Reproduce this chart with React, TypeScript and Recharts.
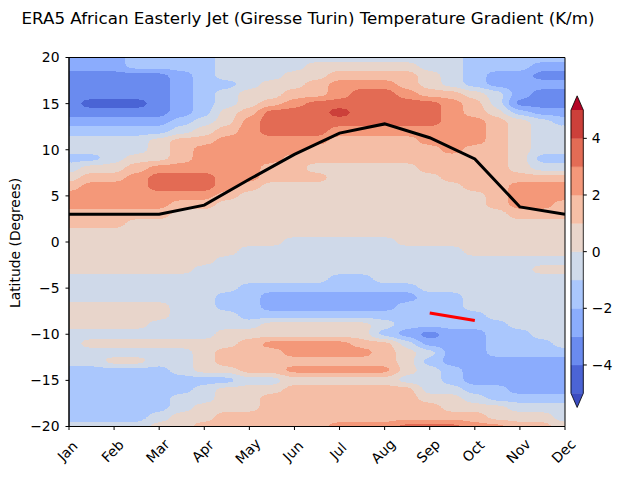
import React from "react";
import { ComposedChart, XAxis, YAxis, Line, Scatter, ReferenceArea } from "recharts";

const MONTHS = ["Jan", "Feb", "Mar", "Apr", "May", "Jun", "Jul", "Aug", "Sep", "Oct", "Nov", "Dec"];
const MONTH_TICKS = [0, 1, 2, 3, 4, 5, 6, 7, 8, 9, 10, 11];
const LAT_TICKS = [-20, -15, -10, -5, 0, 5, 10, 15, 20];

// contour levels and coolwarm band colours
const LEVELS = [-5, -4, -3, -2, -1, 0, 1, 2, 3, 4, 5];
const CBAR_TICKS = [-4, -2, 0, 2, 4];
const BAND_COLORS = [
  "#4b64d5", "#6a8bef", "#8badfd", "#aac7fd", "#cfdaea",
  "#e9d5cb", "#f6bfa6", "#f4987a", "#e36c55", "#cc403a",
];
const UNDER_COLOR = "#3b4cc0";
const OVER_COLOR = "#b40426";

// sample grid: every half month, every degree of latitude
const GRID_MONTHS = [0, 0.5, 1, 1.5, 2, 2.5, 3, 3.5, 4, 4.5, 5, 5.5, 6, 6.5, 7, 7.5, 8, 8.5, 9, 9.5, 10, 10.5, 11];
const GRID_LATS = [
  20, 19, 18, 17, 16, 15, 14, 13, 12, 11, 10, 9, 8, 7, 6, 5, 4, 3, 2, 1, 0,
  -1, -2, -3, -4, -5, -6, -7, -8, -9, -10, -11, -12, -13, -14, -15, -16, -17, -18, -19, -20,
];

// band index per grid cell, run-length coded per latitude row: [band, count, band, count, ...]
const FIELD_RUNS: number[][] = [
  [2, 3, 3, 4, 4, 11, 3, 5],
  [2, 3, 3, 4, 4, 4, 5, 5, 4, 2, 3, 3, 2, 2],
  [1, 5, 2, 1, 3, 1, 4, 3, 5, 2, 6, 4, 5, 1, 4, 1, 3, 1, 2, 2, 1, 2],
  [1, 5, 2, 1, 3, 2, 4, 1, 5, 2, 6, 1, 7, 3, 6, 1, 5, 1, 4, 1, 3, 1, 2, 4],
  [1, 5, 2, 1, 3, 1, 4, 1, 5, 2, 6, 2, 7, 1, 8, 2, 7, 1, 6, 2, 5, 1, 4, 1, 2, 1, 1, 2],
  [1, 1, 0, 3, 1, 1, 2, 1, 3, 1, 4, 1, 5, 1, 6, 1, 7, 1, 8, 6, 7, 1, 6, 1, 4, 1, 1, 3],
  [1, 5, 2, 1, 3, 1, 5, 1, 6, 1, 8, 3, 9, 1, 8, 4, 7, 1, 6, 1, 5, 1, 3, 1, 2, 2],
  [2, 5, 3, 1, 4, 1, 5, 1, 7, 1, 8, 8, 7, 2, 6, 1, 5, 1, 4, 1, 3, 1],
  [3, 5, 4, 1, 5, 1, 6, 1, 7, 1, 8, 3, 7, 7, 6, 1, 5, 1, 4, 2],
  [4, 4, 5, 1, 6, 2, 7, 5, 6, 4, 7, 3, 6, 1, 5, 1, 4, 2],
  [4, 4, 5, 1, 6, 1, 7, 5, 6, 6, 7, 1, 6, 2, 5, 1, 4, 2],
  [3, 2, 4, 1, 5, 2, 6, 1, 7, 4, 6, 10, 5, 1, 3, 2],
  [4, 1, 5, 2, 6, 1, 7, 5, 6, 2, 5, 5, 6, 4, 5, 1, 4, 2],
  [5, 1, 6, 2, 7, 1, 8, 3, 7, 2, 6, 3, 5, 5, 6, 6],
  [6, 1, 7, 3, 8, 3, 7, 1, 6, 1, 5, 9, 6, 2, 7, 3],
  [7, 7, 6, 1, 5, 11, 6, 1, 7, 3],
  [7, 5, 6, 2, 5, 12, 6, 1, 7, 2, 6, 1],
  [6, 5, 5, 15, 6, 3],
  [6, 3, 5, 20],
  [5, 23],
  [5, 10, 4, 5, 5, 8],
  [5, 8, 4, 10, 5, 5],
  [5, 7, 4, 16],
  [5, 6, 4, 15, 5, 2],
  [4, 12, 3, 2, 4, 9],
  [4, 8, 3, 8, 4, 7],
  [4, 7, 3, 2, 2, 7, 3, 2, 4, 5],
  [5, 5, 4, 2, 3, 2, 2, 6, 3, 3, 4, 5],
  [5, 5, 4, 3, 3, 11, 4, 4],
  [5, 4, 4, 5, 5, 5, 4, 1, 3, 5, 4, 3],
  [4, 7, 5, 7, 3, 1, 2, 1, 1, 1, 2, 2, 3, 2, 4, 2],
  [4, 1, 5, 7, 6, 1, 7, 4, 6, 2, 4, 1, 2, 3, 3, 3, 4, 1],
  [4, 6, 5, 1, 6, 3, 7, 4, 6, 1, 5, 1, 4, 1, 2, 2, 3, 4],
  [4, 2, 5, 2, 4, 2, 5, 1, 6, 8, 5, 1, 3, 1, 2, 6],
  [3, 5, 4, 1, 5, 2, 6, 2, 7, 5, 5, 1, 4, 1, 3, 1, 2, 5],
  [3, 8, 4, 2, 5, 5, 4, 2, 3, 1, 2, 5],
  [3, 6, 4, 1, 5, 3, 6, 6, 4, 2, 3, 2, 2, 3],
  [3, 5, 4, 2, 5, 2, 6, 7, 5, 2, 4, 1, 3, 4],
  [3, 5, 4, 1, 5, 3, 6, 8, 5, 3, 4, 3],
  [3, 4, 4, 1, 5, 2, 6, 12, 5, 3, 4, 1],
  [4, 4, 5, 2, 6, 6, 7, 3, 8, 3, 7, 2, 6, 2, 5, 1],
];

// AEJ core latitude (black) and the short red segment
const JET_LAT = [3, 3, 3, 4, 6.8, 9.5, 11.8, 12.8, 11.3, 9, 3.8, 3];
const RED_MONTHS = [8, 9];
const RED_LAT = [-7.7, -8.5];

const JET = MONTH_TICKS.map((m, i) => ({ x: m, y: JET_LAT[i] }));
const RED = RED_MONTHS.map((m, i) => ({ x: m, y: RED_LAT[i] }));

// one scatter point per horizontal run of equal band
type Run = { x: number; y: number; w: number; band: number };
const HALF_STEP = 0.25;
const RUNS: Run[] = [];
FIELD_RUNS.forEach((row, r) => {
  let col = 0;
  for (let k = 0; k < row.length; k += 2) {
    const band = row[k];
    const n = row[k + 1];
    const end = Math.min(col + n - 1, GRID_MONTHS.length - 1);
    const x1 = GRID_MONTHS[col] - HALF_STEP;
    const x2 = GRID_MONTHS[end] + HALF_STEP;
    RUNS.push({ x: (x1 + x2) / 2, y: GRID_LATS[r], w: x2 - x1, band });
    col += n;
  }
});

const W = 623;
const H = 477;
const MARGIN = { top: 57.5, right: 58, bottom: 10.5, left: 29 };
const Y_AXIS_W = 40;
const X_AXIS_H = 40;
const PLOT_W = W - MARGIN.left - MARGIN.right - Y_AXIS_W;
const PLOT_H = H - MARGIN.top - MARGIN.bottom - X_AXIS_H;
const PX_PER_MONTH = PLOT_W / 11;
const PX_PER_DEG = PLOT_H / 40;

const FONT = "DejaVu Sans, sans-serif";
const fmtMinus = (v: number) => String(v).replace("-", "\u2212");

// cells are painted as a grey code of their band; the filter blurs and re-bins into the palette
const bandGrey = (b: number) => {
  const v = Math.round(((b + 0.5) / BAND_COLORS.length) * 255);
  return `rgb(${v},${v},${v})`;
};
const channel = (idx: number) =>
  BAND_COLORS.map((c) => (parseInt(c.slice(1 + idx * 2, 3 + idx * 2), 16) / 255).toFixed(4)).join(" ");

function FieldCell(props: any) {
  const { cx, cy, payload } = props;
  const w = payload.w * PX_PER_MONTH;
  const h = PX_PER_DEG;
  return (
    <rect
      x={cx - w / 2 - 0.3}
      y={cy - h / 2 - 0.3}
      width={w + 0.6}
      height={h + 0.6}
      fill={bandGrey(payload.band)}
      shapeRendering="crispEdges"
    />
  );
}

function MonthTick(props: any) {
  const { x, y, payload } = props;
  const cx = x - 1.5;
  const cy = y + 19;
  return (
    <text
      x={cx}
      y={cy}
      textAnchor="middle"
      dominantBaseline="central"
      fontSize={13.9}
      fontFamily={FONT}
      fill="#000"
      transform={`rotate(-45 ${cx} ${cy})`}
    >
      {MONTHS[payload.value]}
    </text>
  );
}

function SidesOnly(props: any) {
  const { x, y, width, height } = props;
  return (
    <path
      d={`M${x},${y} V${y + height} M${x + width},${y} V${y + height}`}
      stroke="#000"
      strokeWidth={0.8}
      fill="none"
    />
  );
}

function TopTriangle(props: any) {
  const { x, y, width, height } = props;
  return (
    <g>
      <polygon points={`${x},${y + height} ${x + width},${y + height} ${x + width / 2},${y}`} fill={OVER_COLOR} />
      <polyline
        points={`${x},${y + height} ${x + width / 2},${y} ${x + width},${y + height}`}
        stroke="#000"
        strokeWidth={0.8}
        fill="none"
      />
    </g>
  );
}

function BottomTriangle(props: any) {
  const { x, y, width, height } = props;
  return (
    <g>
      <polygon points={`${x},${y} ${x + width},${y} ${x + width / 2},${y + height}`} fill={UNDER_COLOR} />
      <polyline
        points={`${x},${y} ${x + width / 2},${y + height} ${x + width},${y}`}
        stroke="#000"
        strokeWidth={0.8}
        fill="none"
      />
    </g>
  );
}

function Colorbar() {
  return (
    <ComposedChart
      width={W}
      height={H}
      data={[{ x: 0 }, { x: 1 }]}
      margin={{ top: 110, right: 4.7, bottom: 83.7, left: 571 }}
      style={{ fontFamily: FONT }}
    >
      <XAxis type="number" dataKey="x" domain={[0, 1]} hide allowDataOverflow />
      <YAxis
        yAxisId="cb"
        orientation="right"
        type="number"
        domain={[-5, 5]}
        ticks={CBAR_TICKS}
        allowDataOverflow
        width={35}
        axisLine={false}
        tickSize={3.5}
        tickMargin={5}
        tickLine={{ stroke: "#000" }}
        tick={{ fill: "#000", fontSize: 13.9, fontFamily: FONT }}
        tickFormatter={fmtMinus}
      />
      {BAND_COLORS.map((c, i) => (
        <ReferenceArea
          key={`cb${i}`}
          yAxisId="cb"
          x1={0}
          x2={1}
          y1={LEVELS[i]}
          y2={LEVELS[i + 1]}
          fill={c}
          fillOpacity={1}
          stroke={c}
          strokeWidth={0.5}
          ifOverflow="visible"
        />
      ))}
      <ReferenceArea yAxisId="cb" x1={0} x2={1} y1={5} y2={5.5} ifOverflow="visible" shape={TopTriangle} />
      <ReferenceArea yAxisId="cb" x1={0} x2={1} y1={-5.5} y2={-5} ifOverflow="visible" shape={BottomTriangle} />
      <ReferenceArea yAxisId="cb" x1={0} x2={1} y1={-5} y2={5} ifOverflow="visible" shape={SidesOnly} />
    </ComposedChart>
  );
}

export default function App() {
  return (
    <div style={{ position: "absolute", left: 0, top: 0, width: W, height: H, background: "#fff" }}>
      <style>{`.recharts-scatter { filter: url(#contourBins); }`}</style>
      <svg width={0} height={0} style={{ position: "absolute" }}>
        <defs>
          <filter id="contourBins" x="-5%" y="-5%" width="110%" height="110%" colorInterpolationFilters="sRGB">
            <feGaussianBlur stdDeviation="7 3" />
            <feComponentTransfer>
              <feFuncR type="discrete" tableValues={channel(0)} />
              <feFuncG type="discrete" tableValues={channel(1)} />
              <feFuncB type="discrete" tableValues={channel(2)} />
              <feFuncA type="linear" slope={3} intercept={0} />
            </feComponentTransfer>
          </filter>
        </defs>
      </svg>
      <div style={{ position: "absolute", left: 0, top: 0 }}>
        <ComposedChart width={W} height={H} margin={MARGIN} style={{ fontFamily: FONT }}>
          <XAxis
            type="number"
            dataKey="x"
            domain={[0, 11]}
            ticks={MONTH_TICKS}
            interval={0}
            allowDataOverflow
            height={X_AXIS_H}
            tickSize={3.5}
            tickMargin={2}
            axisLine={{ stroke: "#000" }}
            tickLine={{ stroke: "#000" }}
            tick={<MonthTick />}
          />
          <YAxis
            type="number"
            dataKey="y"
            domain={[-20, 20]}
            ticks={LAT_TICKS}
            interval={0}
            allowDataOverflow
            width={Y_AXIS_W}
            tickSize={3.5}
            tickMargin={6}
            axisLine={{ stroke: "#000" }}
            tickLine={{ stroke: "#000" }}
            tick={{ fill: "#000", fontSize: 13.9, fontFamily: FONT }}
            tickFormatter={fmtMinus}
          />
          <Scatter data={RUNS} dataKey="y" shape={FieldCell} isAnimationActive={false} zIndex={50} />
          <ReferenceArea
            x1={0}
            x2={11}
            y1={-20}
            y2={20}
            fill="none"
            fillOpacity={0}
            stroke="#000"
            strokeWidth={1}
            ifOverflow="visible"
            zIndex={450}
          />
          <Line data={JET} dataKey="y" type="linear" stroke="#000" strokeWidth={3} dot={false} isAnimationActive={false} zIndex={700} />
          <Line data={RED} dataKey="y" type="linear" stroke="#ff0000" strokeWidth={3} dot={false} isAnimationActive={false} zIndex={700} />
        </ComposedChart>
      </div>
      <div style={{ position: "absolute", left: 0, top: 0 }}>
        <Colorbar />
      </div>
      <svg width={W} height={H} style={{ position: "absolute", left: 0, top: 0, pointerEvents: "none" }}>
        <text x={308} y={24} textAnchor="middle" fontSize={16.7} fontFamily={FONT} fill="#000">
          ERA5 African Easterly Jet (Giresse Turin) Temperature Gradient (K/m)
        </text>
        <text
          x={20}
          y={243}
          textAnchor="middle"
          fontSize={13.9}
          fontFamily={FONT}
          fill="#000"
          transform="rotate(-90 20 243)"
        >
          Latitude (Degrees)
        </text>
      </svg>
    </div>
  );
}
